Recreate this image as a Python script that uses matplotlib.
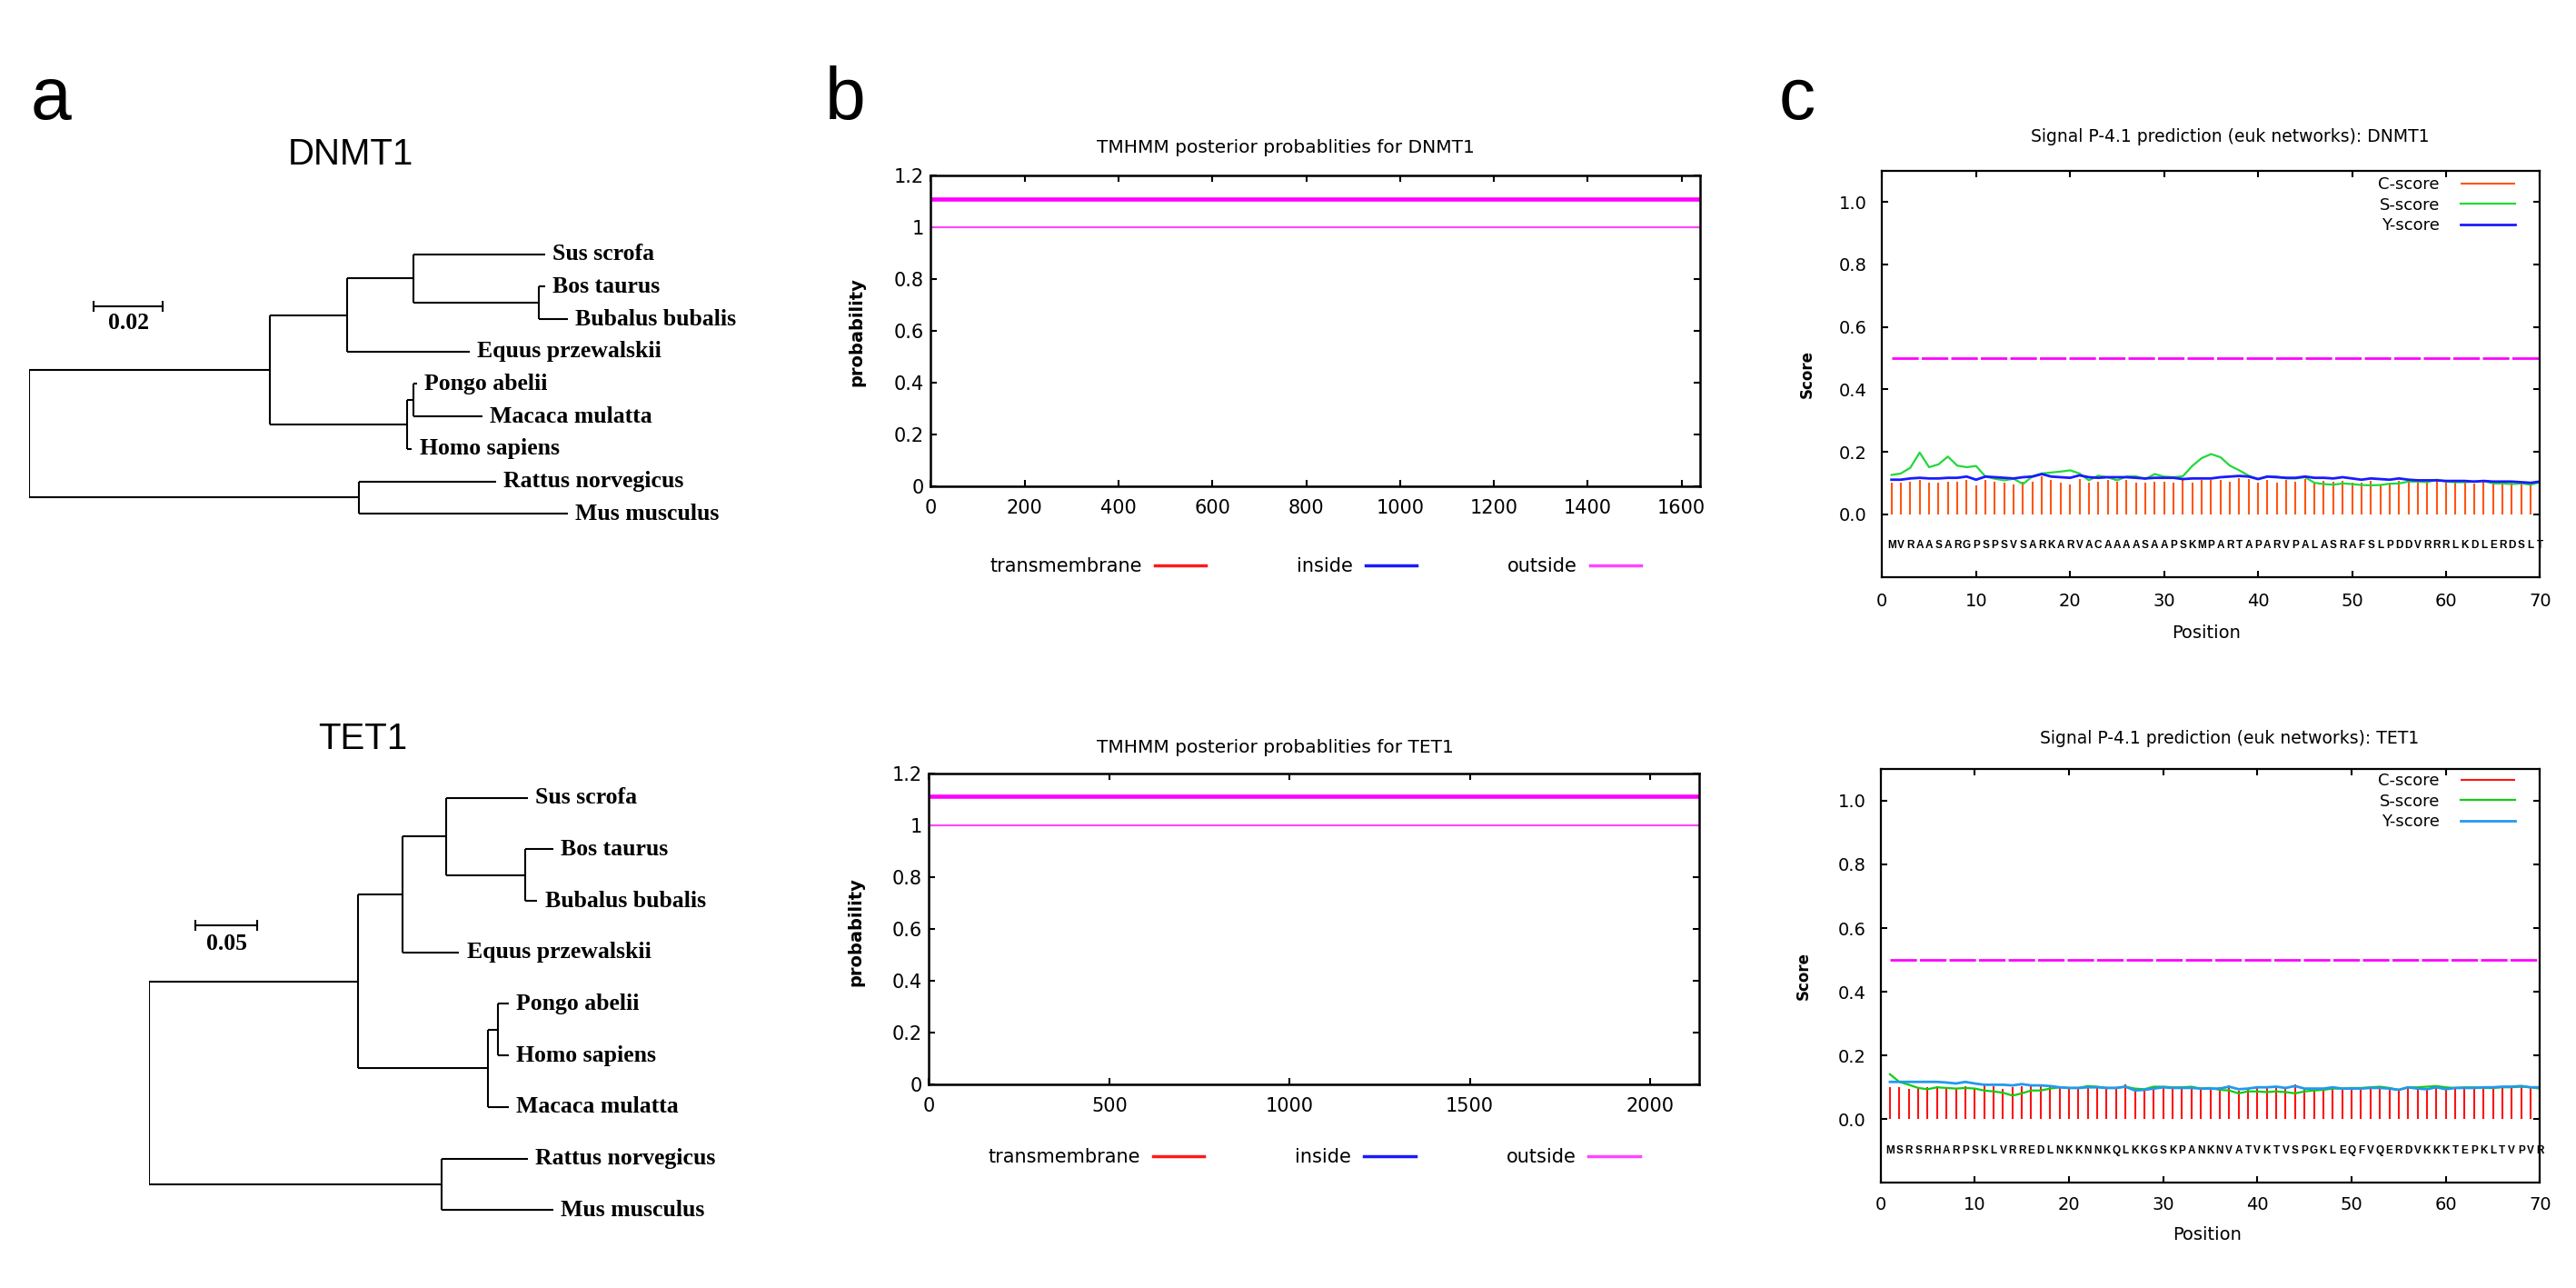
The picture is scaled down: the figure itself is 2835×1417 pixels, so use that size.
import matplotlib
matplotlib.use('Agg')
import matplotlib.pyplot as plt
import numpy as np

W, H = 2835, 1417

# ---------------- panel a: neighbour-joining trees ----------------
dnmt1_nodes = ['root', 'n1', 'n2', 'n3', 'Sus scrofa', 'n4', 'Bos taurus', 'Bubalus bubalis',
               'Equus przewalskii', 'n5', 'n6', 'Pongo abelii', 'Macaca mulatta', 'Homo sapiens',
               'n7', 'Rattus norvegicus', 'Mus musculus']
dnmt1_parent = [None, 'root', 'n1', 'n2', 'n3', 'n3', 'n4', 'n4', 'n2', 'n1', 'n5', 'n6', 'n6',
                'n5', 'root', 'n7', 'n7']
dnmt1_branch = [0, 0.0701, 0.0223, 0.0192, 0.0384, 0.0364, 0.0020, 0.0085, 0.0356, 0.0397,
                0.0018, 0.0012, 0.0202, 0.0015, 0.0959, 0.0397, 0.0606]
dnmt1_scale = 0.02

tet1_nodes = ['root', 'n1', 'n2', 'n3', 'Sus scrofa', 'n4', 'Bos taurus', 'Bubalus bubalis',
              'Equus przewalskii', 'n5', 'n6', 'Pongo abelii', 'Homo sapiens', 'Macaca mulatta',
              'n7', 'Rattus norvegicus', 'Mus musculus']
tet1_parent = [None, 'root', 'n1', 'n2', 'n3', 'n3', 'n4', 'n4', 'n2', 'n1', 'n5', 'n6', 'n6',
               'n5', 'root', 'n7', 'n7']
tet1_branch = [0, 0.170, 0.0365, 0.0352, 0.0666, 0.0643, 0.0226, 0.0099, 0.0458, 0.1056,
               0.0084, 0.0085, 0.0085, 0.0169, 0.2383, 0.0700, 0.0903]
tet1_scale = 0.05

# ---------------- panel b: TMHMM ----------------
dnmt1_len = 1640
tet1_len = 2136
tm_prob = 0.0
inside_prob = 0.0
outside_prob = 1.0
topology_level = 1.11

# ---------------- panel c: SignalP 4.1 ----------------
dnmt1_seq = "MVRAASARGPSPSVSARKARVACAAAASAAPSKMPARTAPARVPALASRAFSLPDDVRRRLKDLERDSLT"
dnmt1_c = [0.101, 0.101, 0.105, 0.109, 0.101, 0.101, 0.105, 0.105, 0.109, 0.093,
           0.109, 0.105, 0.101, 0.097, 0.105, 0.105, 0.121, 0.109, 0.101, 0.097,
           0.113, 0.101, 0.105, 0.109, 0.105, 0.109, 0.101, 0.101, 0.105, 0.105,
           0.101, 0.109, 0.101, 0.109, 0.109, 0.109, 0.105, 0.115, 0.113, 0.101,
           0.111, 0.101, 0.111, 0.105, 0.113, 0.101, 0.107, 0.103, 0.107, 0.101,
           0.101, 0.107, 0.097, 0.101, 0.107, 0.105, 0.101, 0.103, 0.107, 0.103,
           0.103, 0.103, 0.099, 0.107, 0.101, 0.101, 0.107, 0.099, 0.097, 0.101]
dnmt1_s = [0.126, 0.131, 0.149, 0.198, 0.151, 0.160, 0.185, 0.156, 0.151, 0.155,
           0.121, 0.114, 0.109, 0.114, 0.097, 0.122, 0.131, 0.134, 0.137, 0.141,
           0.131, 0.109, 0.124, 0.119, 0.109, 0.121, 0.122, 0.113, 0.129, 0.121,
           0.119, 0.122, 0.155, 0.180, 0.193, 0.183, 0.156, 0.141, 0.124, 0.113,
           0.121, 0.121, 0.115, 0.115, 0.119, 0.101, 0.097, 0.095, 0.099, 0.097,
           0.094, 0.093, 0.094, 0.098, 0.099, 0.105, 0.105, 0.103, 0.111, 0.105,
           0.103, 0.103, 0.105, 0.107, 0.099, 0.099, 0.097, 0.099, 0.095, 0.103]
dnmt1_y = [0.111, 0.111, 0.115, 0.117, 0.115, 0.115, 0.117, 0.117, 0.121, 0.111,
           0.121, 0.119, 0.117, 0.115, 0.119, 0.121, 0.129, 0.121, 0.119, 0.117,
           0.125, 0.119, 0.117, 0.119, 0.119, 0.119, 0.117, 0.115, 0.117, 0.117,
           0.117, 0.113, 0.115, 0.115, 0.115, 0.119, 0.121, 0.123, 0.121, 0.113,
           0.121, 0.119, 0.117, 0.117, 0.121, 0.117, 0.117, 0.115, 0.119, 0.115,
           0.111, 0.115, 0.113, 0.111, 0.115, 0.111, 0.109, 0.109, 0.109, 0.107,
           0.107, 0.107, 0.105, 0.107, 0.105, 0.105, 0.105, 0.103, 0.101, 0.105]

tet1_seq = "MSRSRHARPSKLVRREDLNKKNNKQLKKGSKPANKNVATVKTVSPGKLEQFVQERDVKKKTEPKLTVPVR"
tet1_c = [0.102, 0.102, 0.096, 0.102, 0.100, 0.104, 0.100, 0.096, 0.104, 0.098,
          0.106, 0.104, 0.096, 0.102, 0.104, 0.108, 0.108, 0.104, 0.102, 0.102,
          0.102, 0.104, 0.104, 0.100, 0.100, 0.108, 0.094, 0.094, 0.104, 0.102,
          0.102, 0.104, 0.100, 0.094, 0.102, 0.100, 0.106, 0.090, 0.096, 0.102,
          0.098, 0.104, 0.096, 0.108, 0.098, 0.098, 0.096, 0.104, 0.098, 0.098,
          0.100, 0.100, 0.102, 0.100, 0.090, 0.104, 0.094, 0.092, 0.104, 0.094,
          0.100, 0.104, 0.098, 0.098, 0.100, 0.102, 0.102, 0.106, 0.100, 0.098]
tet1_s = [0.141, 0.117, 0.108, 0.098, 0.094, 0.100, 0.098, 0.096, 0.098, 0.096,
          0.090, 0.087, 0.083, 0.074, 0.081, 0.090, 0.090, 0.096, 0.100, 0.098,
          0.098, 0.104, 0.102, 0.098, 0.098, 0.102, 0.096, 0.094, 0.102, 0.102,
          0.100, 0.100, 0.102, 0.096, 0.098, 0.092, 0.090, 0.081, 0.087, 0.087,
          0.085, 0.087, 0.085, 0.081, 0.087, 0.090, 0.092, 0.096, 0.096, 0.098,
          0.098, 0.100, 0.102, 0.098, 0.092, 0.100, 0.100, 0.102, 0.104, 0.100,
          0.098, 0.100, 0.100, 0.098, 0.098, 0.100, 0.100, 0.102, 0.100, 0.096]
tet1_y = [0.117, 0.117, 0.117, 0.117, 0.117, 0.117, 0.115, 0.112, 0.117, 0.112,
          0.108, 0.108, 0.108, 0.106, 0.110, 0.106, 0.106, 0.104, 0.100, 0.098,
          0.098, 0.100, 0.100, 0.098, 0.098, 0.102, 0.090, 0.092, 0.096, 0.100,
          0.098, 0.098, 0.098, 0.096, 0.096, 0.096, 0.102, 0.094, 0.096, 0.100,
          0.100, 0.102, 0.098, 0.104, 0.096, 0.096, 0.096, 0.100, 0.096, 0.096,
          0.096, 0.098, 0.098, 0.096, 0.092, 0.100, 0.096, 0.094, 0.100, 0.094,
          0.098, 0.098, 0.098, 0.100, 0.100, 0.102, 0.102, 0.104, 0.100, 0.100]
cutoff = 0.5

plt.rcParams['font.family'] = ['DejaVu Sans']
SANS = ['Liberation Sans', 'DejaVu Sans']
SERIF = ['Liberation Serif', 'DejaVu Serif']

fig = plt.figure(figsize=(W / 100, H / 100), dpi=100)


def px_axes(x0, y0, x1, y1):
    return fig.add_axes([x0 / W, 1 - y1 / H, (x1 - x0) / W, (y1 - y0) / H])


def fig_text(x, y, s, **kw):
    fig.text(x / W, 1 - y / H, s, **kw)


def draw_tree(ax, nodes, parent, branch, scale, scale_xy):
    children = {n: [] for n in nodes}
    for n, p in zip(nodes, parent):
        if p is not None:
            children[p].append(n)
    depth = {}
    for n, p, b in zip(nodes, parent, branch):
        depth[n] = b if p is None else depth[p] + b
    ypos = {}
    count = [0]

    def place(n):
        if not children[n]:
            ypos[n] = count[0]
            count[0] += 1
        else:
            for c in children[n]:
                place(c)
            ypos[n] = (ypos[children[n][0]] + ypos[children[n][-1]]) / 2

    place(nodes[0])
    for n, p in zip(nodes, parent):
        if children[n]:
            ax.plot([depth[n], depth[n]], [ypos[children[n][0]], ypos[children[n][-1]]],
                    color='black', lw=1.5, solid_capstyle='butt')
        if p is not None:
            ax.plot([depth[p], depth[n]], [ypos[n], ypos[n]], color='black', lw=1.5,
                    solid_capstyle='butt')
        if not children[n]:
            ax.annotate(n, (depth[n], ypos[n]), xytext=(6, 0), textcoords='offset points',
                        ha='left', va='center', fontsize=18.5, fontweight='bold',
                        family=SERIF, annotation_clip=False)
    sx, sy, ly = scale_xy
    ax.plot([sx, sx + scale], [sy, sy], color='black', lw=1.5, marker='|', ms=9, mew=1.5)
    ax.text(sx + scale / 2, ly, f'{scale:g}', ha='center', va='center', fontsize=18.5,
            fontweight='bold', family=SERIF)
    ax.axis('off')


# tree axes (x: branch length, y: leaf order)
ax_t1 = px_axes(31.6, 240, 831.6, 600)
ax_t1.set_xlim(0, 800 / 3790)
ax_t1.set_ylim((600 - 279.6) / 35.7, (240 - 279.6) / 35.7)
draw_tree(ax_t1, dnmt1_nodes, dnmt1_parent, dnmt1_branch, dnmt1_scale, (0.0189, 1.60, 2.14))

ax_t2 = px_axes(163.6, 840, 863.6, 1370)
ax_t2.set_xlim(0, 700 / 1354)
ax_t2.set_ylim((1370 - 877.6) / 56.7, (840 - 877.6) / 56.7)
draw_tree(ax_t2, tet1_nodes, tet1_parent, tet1_branch, tet1_scale, (0.0382, 2.476, 2.843))

fig_text(34, 131, 'a', fontsize=58, family=SANS, va='baseline', ha='left')
fig_text(908, 131, 'b', fontsize=58, family=SANS, va='baseline', ha='left')
fig_text(1958, 131, 'c', fontsize=58, family=SANS, va='baseline', ha='left')
fig_text(386, 170, 'DNMT1', fontsize=29, family=SANS, ha='center', va='center')
fig_text(399, 813, 'TET1', fontsize=29, family=SANS, ha='center', va='center')


def style_frame(ax, lw):
    for sp in ax.spines.values():
        sp.set_linewidth(lw)


def tmhmm_panel(ax, length, xstep, leg_y, xpad):
    x = [0, length]
    ax.plot(x, [tm_prob] * 2, color='#ff1a1a', lw=1, label='transmembrane', zorder=1)
    ax.plot(x, [inside_prob] * 2, color='#1a1aff', lw=1, label='inside', zorder=1)
    ax.plot(x, [outside_prob] * 2, color='#ff45ff', lw=1.5, label='outside')
    ax.plot(x, [topology_level] * 2, color='#ff00ff', lw=3.3)
    ax.set_xlim(0, length)
    ax.set_ylim(0, 1.2)
    ax.set_xticks(np.arange(0, length + 1, xstep))
    ax.set_yticks(np.arange(0, 1.21, 0.2))
    ax.yaxis.set_major_formatter(matplotlib.ticker.FormatStrFormatter('%g'))
    ax.tick_params(direction='in', top=True, right=True, length=5, width=1.5, labelsize=15)
    ax.tick_params(axis='y', pad=5.5)
    ax.tick_params(axis='x', pad=xpad)
    style_frame(ax, 1.8)
    leg = ax.legend(loc='center', bbox_to_anchor=(0.5, leg_y), ncol=3, markerfirst=False,
                    frameon=False, fontsize=15, handlelength=2.7, handletextpad=0.67,
                    columnspacing=4.8)
    for h in leg.legend_handles:
        h.set_linewidth(2.5)


ax_b1 = px_axes(1024.4, 192.9, 1871.3, 534.6)
tmhmm_panel(ax_b1, dnmt1_len, 200, -0.26, 10.5)
fig_text(1415, 163, 'TMHMM posterior probablities for DNMT1', fontsize=14.5, ha='center', va='center')
fig_text(942.7, 365, 'probability', fontsize=14, fontweight='bold', rotation=90, ha='center', va='center')

ax_b2 = px_axes(1022.4, 850.8, 1870, 1193.3)
tmhmm_panel(ax_b2, tet1_len, 500, -0.233, 10)
fig_text(1403, 822, 'TMHMM posterior probablities for TET1', fontsize=14.5, ha='center', va='center')
fig_text(941.5, 1025, 'probability', fontsize=14, fontweight='bold', rotation=90, ha='center', va='center')


def signalp_panel(ax, seq, c, s, y, colors, leg_top, xpad, ypad):
    pos = np.arange(1, len(seq) + 1)
    ax.vlines(pos, 0, c, color=colors[0], lw=1.5, label='C-score')
    ax.plot(pos, s, color=colors[1], lw=1.6, label='S-score')
    ax.plot(pos, y, color=colors[2], lw=2, label='Y-score')
    ax.hlines(cutoff, 1, len(seq), color='#ff00ff', lw=2, linestyles=[(0, (10.5, 1.2))])
    for p, aa in zip(pos, seq):
        ax.text(p, -0.1, aa, ha='center', va='center', fontsize=8.5, fontweight='bold',
                family=SANS)
    ax.set_xlim(0, 70)
    ax.set_ylim(-0.2, 1.1)
    ax.set_xticks(np.arange(0, 71, 10))
    ax.set_yticks(np.arange(0, 1.01, 0.2))
    ax.yaxis.set_major_formatter(matplotlib.ticker.FormatStrFormatter('%.1f'))
    ax.tick_params(direction='in', top=True, right=True, length=5, width=1.5, labelsize=14)
    ax.tick_params(axis='x', pad=xpad)
    ax.tick_params(axis='y', pad=ypad)
    style_frame(ax, 1.6)
    ax.legend(loc='upper right', bbox_to_anchor=(0.962, leg_top), markerfirst=False,
              frameon=False, fontsize=13, handlelength=3.3, handletextpad=1.3,
              labelspacing=0.25, borderpad=0, borderaxespad=0)


ax_c1 = px_axes(2071.3, 187.9, 2795.4, 634.6)
signalp_panel(ax_c1, dnmt1_seq, dnmt1_c, dnmt1_s, dnmt1_y, ('#ff5511', '#22d83a', '#1a1aff'),
              0.986, 12.5, 12)
fig_text(2454.5, 151, 'Signal P-4.1 prediction (euk networks): DNMT1', fontsize=13.5, ha='center', va='center')
fig_text(1988.4, 412, 'Score', fontsize=12, fontweight='bold', rotation=90, ha='center', va='center')
fig_text(2428.5, 696.6, 'Position', fontsize=14, ha='center', va='center')

ax_c2 = px_axes(2069.6, 845.9, 2795.4, 1301.3)
signalp_panel(ax_c2, tet1_seq, tet1_c, tet1_s, tet1_y, ('#ff1111', '#11cc11', '#2299ee'),
              0.991, 10.5, 11.5)
fig_text(2453.6, 813, 'Signal P-4.1 prediction (euk networks): TET1', fontsize=13.5, ha='center', va='center')
fig_text(1985, 1073.4, 'Score', fontsize=12, fontweight='bold', rotation=90, ha='center', va='center')
fig_text(2428.6, 1359, 'Position', fontsize=14, ha='center', va='center')

fig.savefig('out.png', dpi=100)
